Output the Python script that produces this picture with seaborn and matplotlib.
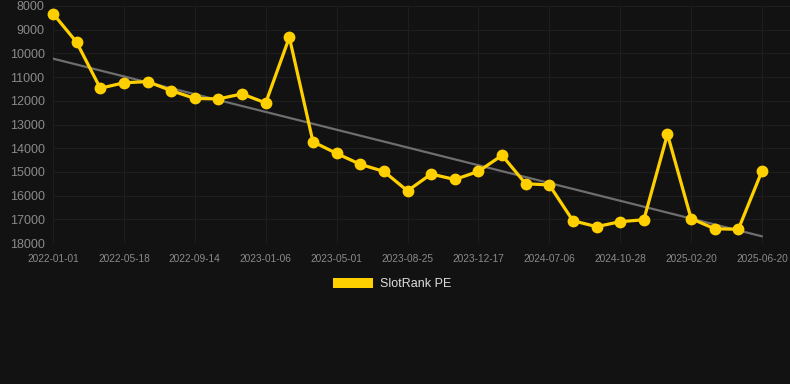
import numpy as np
import pandas as pd
import seaborn as sns
import matplotlib.pyplot as plt
from matplotlib.patches import Patch

# --- data ---
dates = ["2022-01-01", "2022-02-15", "2022-04-02", "2022-05-18", "2022-06-27",
         "2022-08-05", "2022-09-14", "2022-10-22", "2022-11-29", "2023-01-06",
         "2023-02-13", "2023-03-23", "2023-05-01", "2023-06-08", "2023-07-17",
         "2023-08-25", "2023-10-02", "2023-11-09", "2023-12-17", "2024-02-22",
         "2024-04-29", "2024-07-06", "2024-08-13", "2024-09-20", "2024-10-28",
         "2024-12-06", "2025-01-13", "2025-02-20", "2025-04-01", "2025-05-11",
         "2025-06-20"]
rank = [8320, 9530, 11470, 11240, 11190, 11570, 11900, 11920, 11710, 12090,
        9320, 13730, 14220, 14680, 14980, 15800, 15090, 15320, 14980, 14300,
        15500, 15550, 17060, 17310, 17100, 17020, 13410, 16970, 17400, 17420,
        14960]
series_name = "SlotRank PE"

bg = "#121212"
gold = "#FFD000"

df = pd.DataFrame({"date": dates, "rank": rank})
df["pos"] = np.arange(len(df))

sns.set_style("dark")
plt.rcParams["font.family"] = ["Liberation Sans", "DejaVu Sans"]

fig = plt.figure(figsize=(7.9, 3.84), dpi=100, facecolor=bg)
ax = fig.add_axes([53/790, 1 - 243/384, (790 - 53)/790, (243 - 6)/384])
ax.set_facecolor(bg)

# trend line (least squares on the series)
k, b = np.polyfit(df["pos"], df["rank"], 1)
ax.plot(df["pos"], k*df["pos"] + b, color="#6e6e6e", lw=1.6, zorder=2)

sns.lineplot(data=df, x="pos", y="rank", ax=ax, color=gold, lw=2.3,
             marker="o", markersize=8.5, markeredgewidth=0, zorder=3,
             clip_on=False)

ax.set_ylim(18000, 8000)
ax.set_xlim(0, 30 * (790 - 53) / (762 - 53))
ax.set_yticks(range(8000, 18001, 1000))
ax.set_xticks(df["pos"][::3])
ax.set_xticklabels(df["date"][::3])
ax.set_xlabel("")
ax.set_ylabel("")
ax.grid(True, color="#1e1e1e", lw=0.8)
for s in ax.spines.values():
    s.set_visible(False)
ax.tick_params(axis="y", colors="#8a8a8a", labelsize=9, length=0, pad=6)
ax.tick_params(axis="x", colors="#8a8a8a", labelsize=7.3, length=0, pad=8)

fig.legend(handles=[Patch(facecolor=gold, edgecolor="none", label=series_name)],
           loc="center", bbox_to_anchor=(392/790, 1 - 284/384), frameon=False,
           handlelength=3.2, handleheight=0.95, handletextpad=0.6,
           fontsize=9, labelcolor="#dddddd")

fig.savefig("out.png", dpi=100, facecolor=bg)
